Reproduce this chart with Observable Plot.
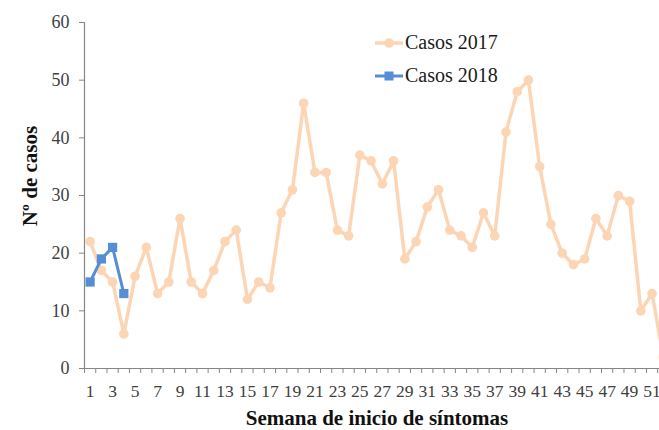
<!DOCTYPE html>
<html>
<head>
<meta charset="utf-8">
<script src="https://cdn.jsdelivr.net/npm/d3@7"></script>
<script src="https://cdn.jsdelivr.net/npm/@observablehq/plot@0.6"></script>
<style>
  html, body { margin: 0; padding: 0; background: #fff; overflow: hidden; }
  #wrap { position: relative; width: 659px; height: 430px; overflow: hidden; font-family: "Liberation Serif", serif; }
  #wrap svg text { font-family: "Liberation Serif", serif; }
  .title { position: absolute; font-weight: bold; color: #111; white-space: nowrap; font-size: 21px; }
  .leg { position: absolute; left: 375px; display: flex; align-items: center; font-size: 20px; color: #1a1a1a; white-space: nowrap; }
  .leg svg { margin-right: 2px; }
</style>
</head>
<body>
<div id="wrap"></div>
<script>
// ---- data ----
const weeks2017 = d3.range(1, 53);
const casos2017 = [22, 17, 15, 6, 16, 21, 13, 15, 26, 15, 13, 17, 22, 24, 12, 15, 14, 27, 31, 46,
                   34, 34, 24, 23, 37, 36, 32, 36, 19, 22, 28, 31, 24, 23, 21, 27, 23, 41, 48, 50,
                   35, 25, 20, 18, 19, 26, 23, 30, 29, 10, 13, 2];
const weeks2018 = [1, 2, 3, 4];
const casos2018 = [15, 19, 21, 13];
const yTicks = [0, 10, 20, 30, 40, 50, 60];
const xTickLabels = d3.range(1, 52, 2);
const xBoundaries = d3.range(0.5, 52, 1);
const seriesNames = ["Casos 2017", "Casos 2018"];
const xTitle = "Semana de inicio de síntomas";
const yTitle = "Nº de casos";

const peach = "#FCD5B5";
const blue = "#558ED5";

const data2017 = weeks2017.map((w, i) => ({week: w, casos: casos2017[i]}));
const data2018 = weeks2018.map((w, i) => ({week: w, casos: casos2018[i]}));

const font = "Liberation Serif";

const chart = Plot.plot({
  width: 659,
  height: 430,
  marginLeft: 84,
  marginRight: 0,
  marginTop: 22,
  marginBottom: 62,
  x: {domain: [0.5, 51.66]},
  y: {domain: [0, 60]},
  style: {fontFamily: font, fontSize: "18px", color: "#404040", background: "white"},
  marks: [
    Plot.axisY({ticks: yTicks, tickSize: 5, tickPadding: 10, label: null, stroke: "#868686", fill: "#404040", fontFamily: font, fontSize: 18}),
    Plot.axisX({ticks: xBoundaries, tickSize: 5, tickFormat: () => "", label: null, stroke: "#868686"}),
    Plot.axisX({ticks: xTickLabels, tickSize: 0, tickPadding: 16, label: null, fill: "#404040", fontFamily: font, fontSize: 17.5}),
    Plot.ruleX([0.5], {stroke: "#868686", strokeWidth: 1.2}),
    Plot.ruleY([0], {stroke: "#868686", strokeWidth: 1.2}),
    Plot.line(data2017, {x: "week", y: "casos", stroke: peach, strokeWidth: 3.5, clip: true}),
    Plot.dot(data2017, {x: "week", y: "casos", r: 4.8, fill: peach, stroke: "none", clip: true}),
    Plot.line(data2018, {x: "week", y: "casos", stroke: blue, strokeWidth: 3, clip: true}),
    Plot.dot(data2018, {x: "week", y: "casos", symbol: "square", r: 5.2, fill: blue, stroke: "none", clip: true})
  ]
});

const wrap = document.getElementById("wrap");
wrap.appendChild(chart);

// axis titles
const xt = document.createElement("div");
xt.className = "title";
xt.textContent = xTitle;
xt.style.left = "377px";
xt.style.top = "406px";
xt.style.transform = "translateX(-50%)";
wrap.appendChild(xt);

const yt = document.createElement("div");
yt.className = "title";
yt.textContent = yTitle;
yt.style.left = "30px";
yt.style.top = "176px";
yt.style.transform = "translate(-50%, -50%) rotate(-90deg)";
wrap.appendChild(yt);

// legend
function legendRow(name, color, square, top) {
  const row = document.createElement("div");
  row.className = "leg";
  row.style.top = top + "px";
  const ns = "http://www.w3.org/2000/svg";
  const s = document.createElementNS(ns, "svg");
  s.setAttribute("width", 28);
  s.setAttribute("height", 16);
  const l = document.createElementNS(ns, "line");
  l.setAttribute("x1", 0); l.setAttribute("x2", 28);
  l.setAttribute("y1", 8); l.setAttribute("y2", 8);
  l.setAttribute("stroke", color); l.setAttribute("stroke-width", square ? 3 : 3.5);
  s.appendChild(l);
  let m;
  if (square) {
    m = document.createElementNS(ns, "rect");
    m.setAttribute("x", 9.5); m.setAttribute("y", 3.5);
    m.setAttribute("width", 9); m.setAttribute("height", 9);
  } else {
    m = document.createElementNS(ns, "circle");
    m.setAttribute("cx", 14); m.setAttribute("cy", 8); m.setAttribute("r", 4.8);
  }
  m.setAttribute("fill", color);
  s.appendChild(m);
  row.appendChild(s);
  const t = document.createElement("span");
  t.textContent = name;
  row.appendChild(t);
  wrap.appendChild(row);
}
legendRow(seriesNames[0], peach, false, 31);
legendRow(seriesNames[1], blue, true, 64);
</script>
</body>
</html>
